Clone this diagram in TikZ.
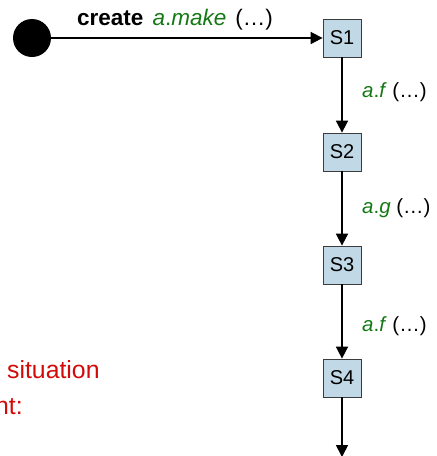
\documentclass[tikz,border=0pt]{standalone}
\usepackage{fontspec}
\setmainfont{Liberation Sans}
\usetikzlibrary{arrows.meta}
\definecolor{stateblue}{RGB}{193,216,230}
\definecolor{stateborder}{RGB}{60,60,60}
\definecolor{opgreen}{RGB}{20,120,20}
\definecolor{notered}{RGB}{210,10,10}
\tikzset{
  state/.style={draw=stateborder, line width=0.8pt, fill=stateblue, minimum size=38pt, inner sep=0pt, font=\fontsize{20}{24}\selectfont},
  initial/.style={circle, fill=black, minimum size=38pt, inner sep=0pt},
  arr/.style={line width=1.7pt, -{Triangle[width=12pt,length=12pt]}},
  lbl/.style={font=\fontsize{20.5}{24}\selectfont, inner sep=0pt},
  note/.style={font=\fontsize{24.8}{28}\selectfont, text=notered, inner sep=0pt, anchor=base west}
}
\newcommand{\op}[1]{\textcolor{opgreen}{#1}}
\begin{document}
\begin{tikzpicture}[x=1pt,y=-1pt]
\useasboundingbox (0,0) rectangle (437,456);
\node[initial] (init) at (32,38) {};
\node[state] (s1) at (342,38) {S1};
\node[state] (s2) at (342,152) {S2};
\node[state] (s3) at (342,265) {S3};
\node[state] (s4) at (342,378) {S4};
\coordinate (end) at (342,457);
\draw[arr] (init) -- (s1);
\draw[arr] (s1) -- (s2);
\draw[arr] (s2) -- (s3);
\draw[arr] (s3) -- (s4);
\draw[arr] (s4) -- (end);
\node[lbl, font=\fontsize{22.5}{26}\selectfont, anchor=base west] (l0) at (77,25) {\textbf{create}\hspace{9pt}\op{\textit{a}.\textit{make}}\hspace{9pt}(…)};
\node[lbl, anchor=west] (l1) at (362,92) {\op{\textit{a}.\textit{f}} (…)};
\node[lbl, anchor=west] (l2) at (362,208) {\op{\textit{a}.\textit{g}} (…)};
\node[lbl, anchor=west] (l3) at (362,326) {\op{\textit{a}.\textit{f}} (…)};
\node[note] (n1) at (7,378) {situation};
\node[note] (n2) at (-5,414) {nt:};
\end{tikzpicture}
\end{document}
